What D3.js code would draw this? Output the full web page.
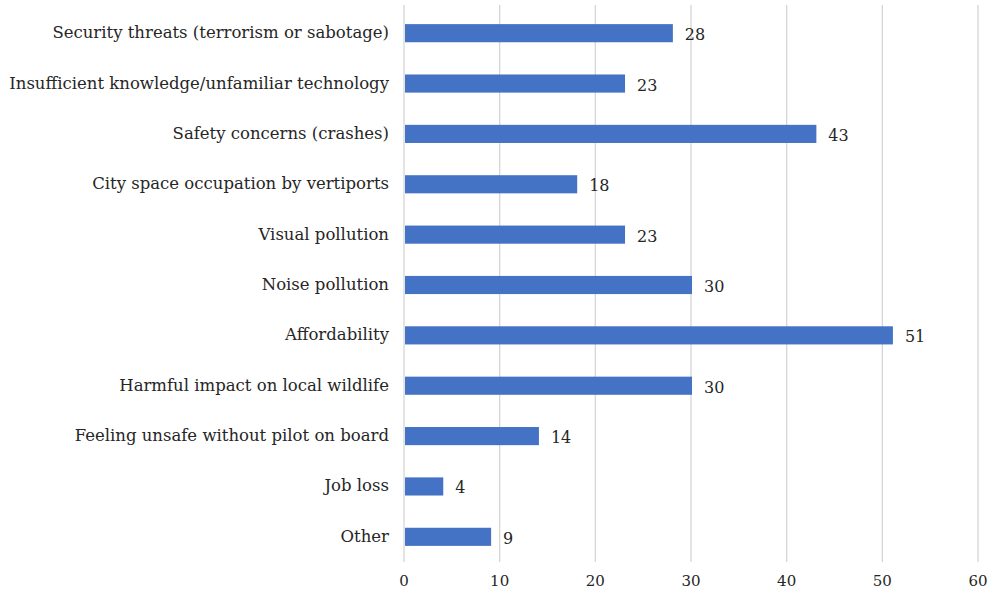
<!DOCTYPE html>
<html>
<head>
<meta charset="utf-8">
<script src="https://cdn.jsdelivr.net/npm/d3@7"></script>
<style>
  body { margin: 0; background: #fff; }
  text { font-family: "DejaVu Serif", serif; fill: #262626; }
</style>
</head>
<body>
<svg id="chart" width="991" height="595"></svg>
<script>
// chart data
const categories = [
  "Security threats (terrorism or sabotage)",
  "Insufficient knowledge/unfamiliar technology",
  "Safety concerns (crashes)",
  "City space occupation by vertiports",
  "Visual pollution",
  "Noise pollution",
  "Affordability",
  "Harmful impact on local wildlife",
  "Feeling unsafe without pilot on board",
  "Job loss",
  "Other"
];
const values = [28, 23, 43, 18, 23, 30, 51, 30, 14, 4, 9];
const xTicks = [0, 10, 20, 30, 40, 50, 60];

const margins = {top: 8, left: 404, right: 9, bottom: 33};
const width = 991 - margins.left - margins.right;
const height = 595 - margins.top - margins.bottom;

const svg = d3.select("#chart");
const g = svg.append("g").attr("transform", `translate(${margins.left},${margins.top})`);

const xScale = d3.scaleLinear().domain([0, 60]).range([0, 574]);
const yScale = d3.scaleBand().domain(categories).range([0, height]).paddingInner(0.64).paddingOuter(0.32);

// gridlines
g.append("g")
  .selectAll("line")
  .data(xTicks)
  .enter()
  .append("line")
  .attr("x1", d => xScale(d))
  .attr("x2", d => xScale(d))
  .attr("y1", -3)
  .attr("y2", height)
  .style("stroke", "#d6d6d6")
  .style("stroke-width", 1.3);

// x tick labels
g.append("g")
  .selectAll("text")
  .data(xTicks)
  .enter()
  .append("text")
  .attr("x", d => xScale(d))
  .attr("y", height + 24)
  .attr("text-anchor", "middle")
  .style("font-size", "15px")
  .text(d => d);

// bars
g.append("g")
  .selectAll("rect")
  .data(values)
  .enter()
  .append("rect")
  .attr("x", xScale(0) + 1)
  .attr("y", (d, i) => yScale(categories[i]))
  .attr("width", d => xScale(d) - xScale(0))
  .attr("height", yScale.bandwidth())
  .style("fill", "#4472c4");

// value labels
g.append("g")
  .selectAll("text")
  .data(values)
  .enter()
  .append("text")
  .attr("x", d => xScale(d) + 13)
  .attr("y", (d, i) => yScale(categories[i]) + yScale.bandwidth() / 2 + 7)
  .style("font-size", "16px")
  .text(d => d);

// category labels
g.append("g")
  .selectAll("text")
  .data(categories)
  .enter()
  .append("text")
  .attr("x", -15)
  .attr("y", d => yScale(d) + yScale.bandwidth() / 2 + 5)
  .attr("text-anchor", "end")
  .style("font-size", "16.5px")
  .text(d => d);
</script>
</body>
</html>
